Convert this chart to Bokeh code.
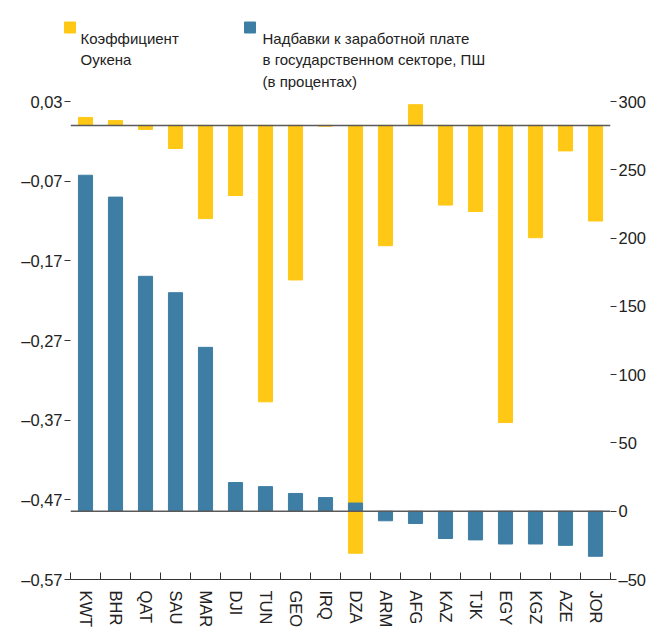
import numpy as np
from bokeh.plotting import figure
from bokeh.models import Range1d, LinearAxis, FixedTicker, Span, ColumnDataSource
from bokeh.layouts import column
from bokeh.core.properties import value
from bokeh.embed import file_html
from bokeh.resources import INLINE

countries = ["KWT", "BHR", "QAT", "SAU", "MAR", "DJI", "TUN", "GEO", "IRQ",
             "DZA", "ARM", "AFG", "KAZ", "TJK", "EGY", "KGZ", "AZE", "JOR"]
okun = [0.010, 0.006, -0.005, -0.029, -0.117, -0.088, -0.347, -0.194, -0.001,
        -0.537, -0.151, 0.026, -0.100, -0.108, -0.373, -0.141, -0.032, -0.120]
premium = [246, 230, 172, 160, 120, 21, 18, 13, 10,
           6, -7, -9, -20, -21, -24, -24, -25, -33]
left_ticks = [-0.57, -0.47, -0.37, -0.27, -0.17, -0.07, 0.03]
right_ticks = [-50, 0, 50, 100, 150, 200, 250, 300]
legend_labels = [["Коэффициент", "Оукена"],
                 ["Надбавки к заработной плате", "в государственном секторе, ПШ", "(в процентах)"]]

YELLOW = "#FFC816"
BLUE = "#3E7EA4"
FONT = "Liberation Sans"
TXT = "#222222"

W = 653
LEG_H = 92
MAIN_H = 633 - LEG_H

# ---------- legend strip (pixel coordinates) ----------
leg = figure(width=W, height=LEG_H, x_range=Range1d(0, W), y_range=Range1d(LEG_H, 0),
             output_backend="svg", toolbar_location=None, min_border=0)
if "frame_align" in leg.properties():
    leg.frame_align = False
leg.axis.visible = False
leg.grid.visible = False
leg.outline_line_color = None
leg.rect(x=[69.5, 249.5], y=[27, 27], width=11, height=11, color=[YELLOW, BLUE])
lx, ly, lt = [], [], []
for x0, lines in zip([80, 262], legend_labels):
    for i, t in enumerate(lines):
        lx.append(x0); ly.append(37.5 + 21.5 * i); lt.append(t)
leg.text(x=lx, y=ly, text=lt, text_font=value(FONT), text_font_size="15px",
         text_color=TXT, text_baseline="alphabetic", text_align="left")

# ---------- main chart ----------
n = len(countries)
xs = np.arange(n) + 0.5
src = ColumnDataSource(dict(x=xs, okun=okun, prem=premium))

p = figure(width=W, height=MAIN_H, x_range=Range1d(0, n), y_range=Range1d(-0.57, 0.03),
           output_backend="svg", toolbar_location=None, y_axis_location=None,
           x_axis_location=None,
           min_border_left=70, min_border_right=43, min_border_top=101 - LEG_H,
           min_border_bottom=54)
if "frame_align" in p.properties():
    p.frame_align = False
p.extra_y_ranges = {"right": Range1d(-50, 300)}
p.grid.visible = False
p.outline_line_color = None

p.vbar(x="x", top="okun", bottom=0, width=0.47, source=src, color=YELLOW)
p.vbar(x="x", top="prem", bottom=0, width=0.47, source=src, color=BLUE, y_range_name="right")

p.add_layout(Span(location=0, dimension="width", line_color="#5a5a5a", line_width=1.5))
p.add_layout(Span(location=0, dimension="width", line_color="#5a5a5a", line_width=1.5,
                  y_range_name="right"))

def fmt(v):
    s = f"{abs(v):.2f}".replace(".", ",")
    return ("–" if v < 0 else "") + s

ly_ax = LinearAxis(ticker=FixedTicker(ticks=left_ticks, minor_ticks=[]),
                   major_label_overrides={t: fmt(t) for t in left_ticks})
ry_ax = LinearAxis(y_range_name="right", ticker=FixedTicker(ticks=right_ticks, minor_ticks=[]),
                   major_label_overrides={t: ("–" + str(abs(t)) if t < 0 else str(t)) for t in right_ticks})
for ax in (ly_ax, ry_ax):
    ax.axis_line_color = None
    ax.major_tick_in = 0
    ax.major_tick_out = 6
    ax.major_tick_line_color = "#333333"
    ax.minor_tick_line_color = None
    ax.major_label_text_font = FONT
    ax.major_label_text_font_size = "16.5px"
    ax.major_label_text_color = TXT
    ax.major_label_standoff = 2
p.add_layout(ly_ax, "left")
p.add_layout(ry_ax, "right")

x_ax = LinearAxis(ticker=FixedTicker(ticks=list(xs), minor_ticks=list(range(n + 1))),
                  major_label_overrides={float(x): c for x, c in zip(xs, countries)})
x_ax.axis_line_color = "#333333"
x_ax.axis_line_width = 1.2
x_ax.major_tick_line_color = None
x_ax.minor_tick_line_color = "#333333"
x_ax.minor_tick_in = 7
x_ax.minor_tick_out = 0
x_ax.major_label_orientation = "vertical"
x_ax.major_label_text_font = FONT
x_ax.major_label_text_font_size = "16.5px"
x_ax.major_label_text_color = TXT
x_ax.major_label_standoff = 5
p.add_layout(x_ax, "below")

layout = column(leg, p, spacing=0)
open("out.html", "w").write(file_html(layout, INLINE))
